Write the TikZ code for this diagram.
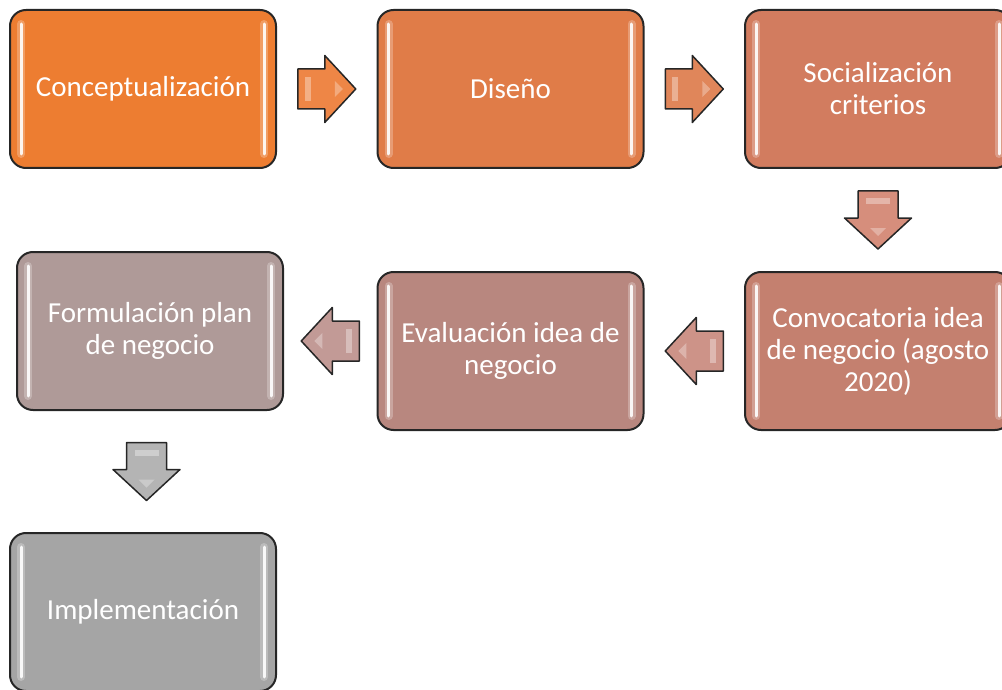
\documentclass[tikz,border=0pt]{standalone}
\usepackage{fontspec}
\setmainfont{Carlito}
\usetikzlibrary{calc}
\definecolor{cA}{HTML}{ED7D31}
\definecolor{cB}{HTML}{E07C48}
\definecolor{cC}{HTML}{D27C5F}
\definecolor{cD}{HTML}{C4806F}
\definecolor{cE}{HTML}{B8877F}
\definecolor{cF}{HTML}{AF9A98}
\definecolor{cG}{HTML}{A5A5A5}
\definecolor{aA}{HTML}{EE8646}
\definecolor{aB}{HTML}{E0865A}
\definecolor{aC}{HTML}{D68E7C}
\definecolor{aD}{HTML}{CD9388}
\definecolor{aE}{HTML}{C29A96}
\definecolor{aF}{HTML}{B4B4B4}
\begin{document}
\begin{tikzpicture}[x=1pt,y=-1pt,
  stepbox/.style={draw=black!85, line width=2pt, rounded corners=16pt,
    minimum width=266pt, minimum height=158pt, align=center,
    text=white, font=\fontsize{29}{32}\selectfont, inner sep=0pt},
  arrowbody/.style={draw=black!85, line width=1.5pt, line join=round},
  blockarrow/.pic={
    \path[arrowbody, pic actions] (-29,-20) -- (-2,-20) -- (-2,-33.5) -- (29,0)
      -- (-2,33.5) -- (-2,20) -- (-29,20) -- cycle;
    \fill[white, opacity=0.35] (-22,-12) -- (-16,-12) -- (-16,12) -- (-22,12) -- cycle;
    \fill[white, opacity=0.3] (8,-8) -- (16,0) -- (8,8) -- cycle;
  },
  hl/.style={white, line width=3pt, line cap=round, opacity=0.9},
  hlglow/.style={white, line width=8pt, line cap=round, opacity=0.25}
]
\useasboundingbox (0,0) rectangle (1002,690);
\clip (0,0) rectangle (1002,690);

\node[stepbox, fill=cA] (b1) at (143,89) {Conceptualización};
\node[stepbox, fill=cB] (b2) at (510.5,89) {Diseño};
\node[stepbox, fill=cC] (b3) at (878,89) {Socialización\\criterios};
\node[stepbox, fill=cD] (b4) at (878,351) {Convocatoria idea\\de negocio (agosto\\2020)};
\node[stepbox, fill=cE] (b5) at (510.5,351) {Evaluación idea de\\negocio};
\node[stepbox, fill=cF] (b6) at (150,331) {Formulación plan\\de negocio};
\node[stepbox, fill=cG] (b7) at (143,612) {Implementación};

\foreach \b in {b1,b2,b3,b4,b5,b6,b7}{
  \draw[hlglow] ($(\b.north west)+(12,15)$) -- ($(\b.south west)+(12,-15)$);
  \draw[hlglow] ($(\b.north east)+(-13,15)$) -- ($(\b.south east)+(-13,-15)$);
  \draw[hl] ($(\b.north west)+(12,15)$) -- ($(\b.south west)+(12,-15)$);
  \draw[hl] ($(\b.north east)+(-13,15)$) -- ($(\b.south east)+(-13,-15)$);
}

\coordinate (m1) at ($(b1.east)!0.5!(b2.west)$);
\coordinate (m2) at ($(b2.east)!0.5!(b3.west)$);
\coordinate (m3) at ($(b3.south)!0.5!(b4.north)$);
\coordinate (m4) at ($(b4.west)!0.5!(b5.east)$);
\coordinate (m5) at ($(b5.west)!0.5!(b6.east)$);
\coordinate (m6) at ($(b6.south)!0.5!(b7.north)$);
\pic[fill=aA] at (m1) {blockarrow};
\pic[fill=aB] at (m2) {blockarrow};
\pic[fill=aC, rotate=-90] at (m3) {blockarrow};
\pic[fill=aD, rotate=180] at (m4) {blockarrow};
\pic[fill=aE, rotate=180] at (m5) {blockarrow};
\pic[fill=aF, rotate=-90] at (m6) {blockarrow};
\end{tikzpicture}
\end{document}
